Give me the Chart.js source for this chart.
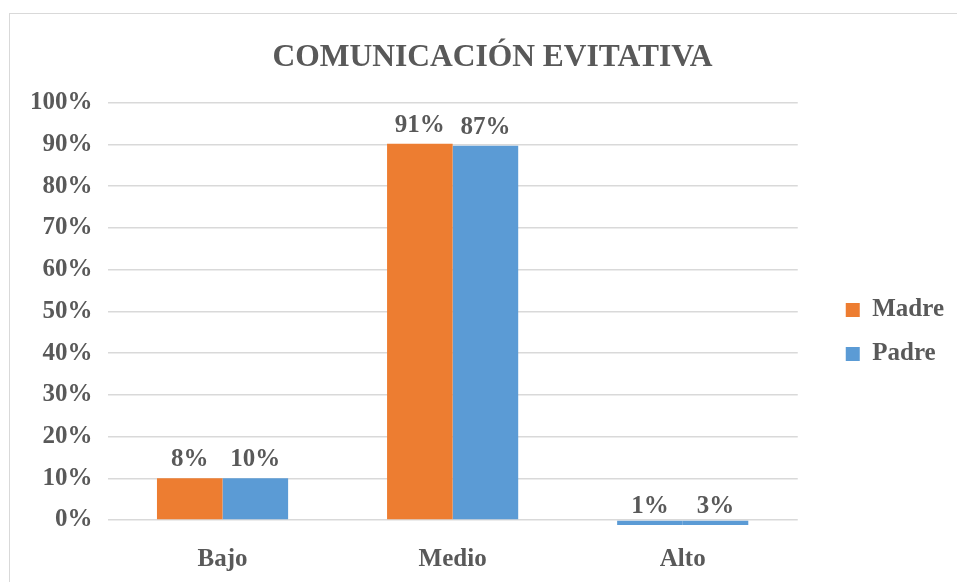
<!DOCTYPE html>
<html>
<head>
<meta charset="utf-8">
<script src="https://cdn.jsdelivr.net/npm/chart.js@4.4.1/dist/chart.umd.min.js"></script>
<style>
  html, body { margin: 0; padding: 0; background: #fff; overflow: hidden; }
  #frame { position: absolute; left: 9px; top: 13px; width: 960px; height: 580px;
           border: 1.5px solid #D9D9D9; box-sizing: border-box; }
  #wrap { position: absolute; left: 10px; top: 14px; width: 948px; height: 596px; }
</style>
</head>
<body>
<div id="frame"></div>
<div id="wrap"><canvas id="c" width="948" height="596"></canvas></div>
<script>
const categories = ['Bajo', 'Medio', 'Alto'];
const seriesNames = ['Madre', 'Padre'];
const madreBars = [10, 90.2, [-1.2, 0]];
const padreBars = [10, 89.7, [-1.2, 0]];
const madreLabels = ['8%', '91%', '1%'];
const padreLabels = ['10%', '87%', '3%'];
const yTicks = [0, 10, 20, 30, 40, 50, 60, 70, 80, 90, 100];

const ORANGE = '#ED7D31', BLUE = '#5B9BD5', TXT = '#595959';
const FONT = 'Liberation Serif, Times New Roman, serif';

const valueLabels = {
  id: 'valueLabels',
  afterDatasetsDraw(chart) {
    const ctx = chart.ctx;
    const lists = [madreLabels, padreLabels];
    ctx.save();
    ctx.font = 'bold 25px ' + FONT;
    ctx.fillStyle = TXT;
    ctx.textAlign = 'center';
    ctx.textBaseline = 'bottom';
    chart.data.datasets.forEach((ds, di) => {
      const meta = chart.getDatasetMeta(di);
      meta.data.forEach((el, i) => {
        ctx.fillText(lists[di][i], el.x, el.y - 6);
      });
    });
    ctx.restore();
  }
};

new Chart(document.getElementById('c'), {
  type: 'bar',
  data: {
    labels: categories,
    datasets: [
      { label: seriesNames[0], data: madreBars, clip: false,
        backgroundColor: (c) => (c.type === 'data' && c.dataIndex === 2) ? BLUE : ORANGE },
      { label: seriesNames[1], data: padreBars, clip: false, backgroundColor: BLUE }
    ]
  },
  options: {
    responsive: false,
    animation: false,
    layout: { padding: { left: 21, right: 4, top: 0, bottom: 18 } },
    datasets: { bar: { categoryPercentage: 0.57, barPercentage: 1.0 } },
    scales: {
      x: {
        grid: { display: false },
        border: { display: false },
        ticks: { color: TXT, font: { family: FONT, size: 25, weight: 'bold' }, padding: 17 }
      },
      y: {
        min: 0, max: 100,
        afterBuildTicks: (s) => { s.ticks = yTicks.map(v => ({ value: v })); },
        afterFit: (s) => { s.width -= 16; },
        grid: { color: '#D9D9D9', lineWidth: 1.5, drawTicks: false },
        border: { display: false },
        ticks: { color: TXT, font: { family: FONT, size: 25, weight: 'bold' }, padding: 15,
                 callback: (v) => v + '%' }
      },
      gap: {
        type: 'linear', position: 'right', display: true,
        grid: { display: false }, border: { display: false },
        ticks: { display: false },
        afterFit: (s) => { s.width = 29; }
      }
    },
    plugins: {
      title: { display: true, text: 'COMUNICACIÓN EVITATIVA', color: TXT,
               font: { family: FONT, size: 31.5, weight: 'bold' }, padding: { top: 25, bottom: 26 } },
      legend: {
        position: 'right',
        title: { display: true, text: ' ', font: { size: 10 }, padding: { top: 23, bottom: 23 } },
        labels: { color: TXT, boxWidth: 14, boxHeight: 14, padding: 19,
                  font: { family: FONT, size: 25, weight: 'bold' } }
      },
      tooltip: { enabled: false }
    }
  },
  plugins: [valueLabels]
});
</script>
</body>
</html>
